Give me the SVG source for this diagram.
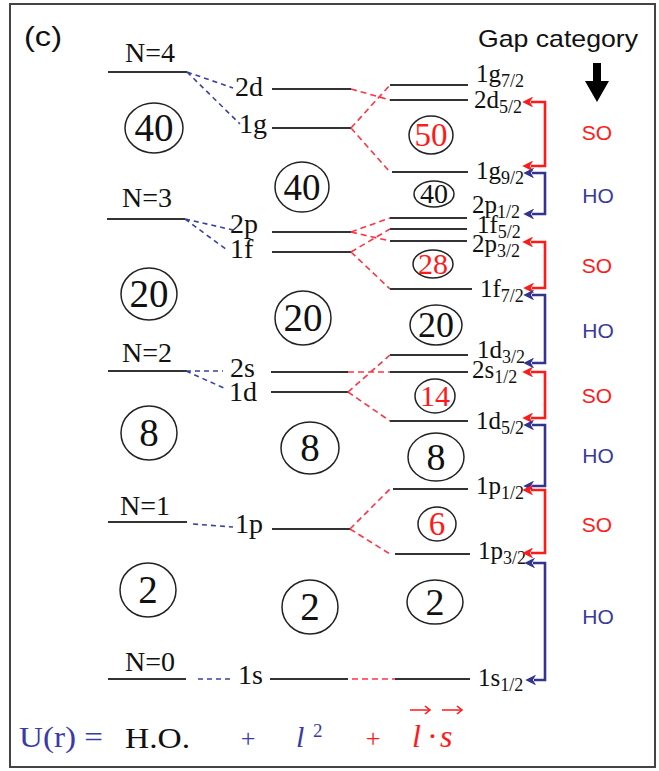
<svg xmlns="http://www.w3.org/2000/svg" width="659" height="771" viewBox="0 0 659 771">
<defs>
<style>
.lvl{stroke:#333;stroke-width:2;fill:none}
.bd{stroke:#3a42a0;stroke-width:1.6;stroke-dasharray:5 4;fill:none}
.rd{stroke:#ff3344;stroke-width:1.6;stroke-dasharray:6 4;fill:none}
.circ{stroke:#222;stroke-width:1.5;fill:none}
.serif{font-family:"Liberation Serif","Times New Roman",serif;fill:#111}
.sans{font-family:"Liberation Sans",Arial,sans-serif}
.num{font-family:"Liberation Serif","Times New Roman",serif;text-anchor:middle;fill:#111}
.red{fill:#ff1a1a}
.hl{font-size:28px}
.rl{font-size:25px}
.sub{font-size:18px}
.so{font-family:"Liberation Sans",Arial,sans-serif;font-size:21px;fill:#ff1a1a;text-anchor:middle}
.ho{font-family:"Liberation Sans",Arial,sans-serif;font-size:21px;fill:#3a3a9a;text-anchor:middle}
.rbr{stroke:#ff1a1a;stroke-width:2.6;fill:none;marker-start:url(#ar);marker-end:url(#ar)}
.bbr{stroke:#33348f;stroke-width:2.6;fill:none;marker-start:url(#ab);marker-end:url(#ab)}
</style>
<marker id="ar" viewBox="0 0 10 10" refX="2" refY="5" markerWidth="4.2" markerHeight="4.2" orient="auto-start-reverse" markerUnits="strokeWidth"><path d="M0,0 L10,5 L0,10 L3,5 z" fill="#ff1a1a"/></marker>
<marker id="ab" viewBox="0 0 10 10" refX="2" refY="5" markerWidth="4.2" markerHeight="4.2" orient="auto-start-reverse" markerUnits="strokeWidth"><path d="M0,0 L10,5 L0,10 L3,5 z" fill="#33348f"/></marker>
</defs>
<rect x="10" y="4" width="645" height="763" fill="#fff" stroke="#444" stroke-width="2"/>
<text x="24" y="46" class="sans" font-size="27" fill="#111" textLength="38" lengthAdjust="spacingAndGlyphs">(c)</text>
<g id="gap-category">
<text x="478" y="47" class="sans" font-size="24" fill="#111" textLength="160" lengthAdjust="spacingAndGlyphs">Gap category</text>
<path d="M593,63 H601 V81 H609 L597,102 L585,81 H593 Z" fill="#000"/>
</g>
<g id="ho-levels">
<g id="N4"><line class="lvl" x1="108" y1="72" x2="187" y2="72"/><text class="num hl" x="150" y="62">N=4</text></g>
<g id="N3"><line class="lvl" x1="107" y1="219" x2="185" y2="219"/><text class="num hl" x="147" y="207">N=3</text></g>
<g id="N2"><line class="lvl" x1="108" y1="371" x2="187" y2="371"/><text class="num hl" x="147" y="362">N=2</text></g>
<g id="N1"><line class="lvl" x1="108" y1="522" x2="187" y2="522"/><text class="num hl" x="145" y="515">N=1</text></g>
<g id="N0"><line class="lvl" x1="108" y1="679" x2="186" y2="679"/><text class="num hl" x="150" y="671">N=0</text></g>
</g>
<g id="l2-levels">
<g id="s2d"><line class="lvl" x1="272" y1="89" x2="351" y2="89"/><text class="serif hl" x="235" y="96">2d</text></g>
<g id="s1g"><line class="lvl" x1="272" y1="128" x2="351" y2="128"/><text class="serif hl" x="239" y="133">1g</text></g>
<g id="s2p"><line class="lvl" x1="272" y1="232" x2="351" y2="232"/><text class="serif hl" x="230" y="233">2p</text></g>
<g id="s1f"><line class="lvl" x1="272" y1="252" x2="351" y2="252"/><text class="serif hl" x="230" y="258">1f</text></g>
<g id="s2s"><line class="lvl" x1="271" y1="372" x2="348" y2="372"/><text class="serif hl" x="230" y="377">2s</text></g>
<g id="s1d"><line class="lvl" x1="271" y1="392" x2="348" y2="392"/><text class="serif hl" x="229" y="401">1d</text></g>
<g id="s1p"><line class="lvl" x1="272" y1="529" x2="350" y2="529"/><text class="serif hl" x="235" y="533">1p</text></g>
<g id="s1s"><line class="lvl" x1="270" y1="679" x2="348" y2="679"/><text class="serif hl" x="238" y="684">1s</text></g>
</g>
<g id="ls-levels">
<g id="r1g72"><line class="lvl" x1="390" y1="85" x2="468" y2="85"/><text class="serif rl" x="476" y="82">1g<tspan class="sub" dy="5">7/2</tspan></text></g>
<g id="r2d52"><line class="lvl" x1="390" y1="100" x2="468" y2="100"/><text class="serif rl" x="474" y="108">2d<tspan class="sub" dy="5">5/2</tspan></text></g>
<g id="r1g92"><line class="lvl" x1="392" y1="172" x2="468" y2="172"/><text class="serif rl" x="476" y="179">1g<tspan class="sub" dy="5">9/2</tspan></text></g>
<g id="r2p12"><line class="lvl" x1="390" y1="218" x2="467" y2="218"/><text class="serif rl" x="472" y="213">2p<tspan class="sub" dy="5">1/2</tspan></text></g>
<g id="r1f52"><line class="lvl" x1="390" y1="229" x2="467" y2="229"/><text class="serif rl" x="477" y="233">1f<tspan class="sub" dy="5">5/2</tspan></text></g>
<g id="r2p32"><line class="lvl" x1="390" y1="241" x2="467" y2="241"/><text class="serif rl" x="472" y="252">2p<tspan class="sub" dy="5">3/2</tspan></text></g>
<g id="r1f72"><line class="lvl" x1="390" y1="289" x2="472" y2="289"/><text class="serif rl" x="480" y="297">1f<tspan class="sub" dy="5">7/2</tspan></text></g>
<g id="r1d32"><line class="lvl" x1="390" y1="355" x2="468" y2="355"/><text class="serif rl" x="477" y="358">1d<tspan class="sub" dy="5">3/2</tspan></text></g>
<g id="r2s12"><line class="lvl" x1="390" y1="372" x2="468" y2="372"/><text class="serif rl" x="472" y="378">2s<tspan class="sub" dy="5">1/2</tspan></text></g>
<g id="r1d52"><line class="lvl" x1="390" y1="421" x2="468" y2="421"/><text class="serif rl" x="476" y="429">1d<tspan class="sub" dy="5">5/2</tspan></text></g>
<g id="r1p12"><line class="lvl" x1="393" y1="489" x2="468" y2="489"/><text class="serif rl" x="476" y="494">1p<tspan class="sub" dy="5">1/2</tspan></text></g>
<g id="r1p32"><line class="lvl" x1="395" y1="554" x2="470" y2="554"/><text class="serif rl" x="478" y="559">1p<tspan class="sub" dy="5">3/2</tspan></text></g>
<g id="r1s12"><line class="lvl" x1="395" y1="679" x2="470" y2="679"/><text class="serif rl" x="478" y="686">1s<tspan class="sub" dy="5">1/2</tspan></text></g>
</g>
<g id="magic-numbers">
<g id="c40a"><ellipse class="circ" cx="154" cy="128" rx="29" ry="25"/><text class="num" font-size="39" x="154" y="141">40</text></g>
<g id="c20a"><ellipse class="circ" cx="149" cy="294" rx="28" ry="26"/><text class="num" font-size="39" x="149" y="307">20</text></g>
<g id="c8a"><ellipse class="circ" cx="149" cy="433" rx="28" ry="27"/><text class="num" font-size="39" x="149" y="446">8</text></g>
<g id="c2a"><ellipse class="circ" cx="148" cy="590" rx="28" ry="27"/><text class="num" font-size="39" x="148" y="603">2</text></g>
<g id="c40b"><ellipse class="circ" cx="302" cy="187" rx="27" ry="25"/><text class="num" font-size="37" x="302" y="200">40</text></g>
<g id="c20b"><ellipse class="circ" cx="303" cy="318" rx="28" ry="27"/><text class="num" font-size="39" x="303" y="331">20</text></g>
<g id="c8b"><ellipse class="circ" cx="310" cy="448" rx="29" ry="26"/><text class="num" font-size="39" x="310" y="461">8</text></g>
<g id="c2b"><ellipse class="circ" cx="310" cy="607" rx="28" ry="27"/><text class="num" font-size="39" x="310" y="620">2</text></g>
<g id="c50"><ellipse class="circ" cx="431" cy="135" rx="22" ry="19"/><text class="num red" font-size="33" x="431" y="146">50</text></g>
<g id="c40c"><ellipse class="circ" cx="434" cy="194" rx="20" ry="13"/><text class="num" font-size="28" x="434" y="203">40</text></g>
<g id="c28"><ellipse class="circ" cx="433" cy="264" rx="20" ry="14"/><text class="num red" font-size="30" x="433" y="274">28</text></g>
<g id="c20c"><ellipse class="circ" cx="436" cy="325" rx="26" ry="20"/><text class="num" font-size="36" x="436" y="337">20</text></g>
<g id="c14"><ellipse class="circ" cx="435" cy="396" rx="20" ry="17"/><text class="num red" font-size="30" x="435" y="406">14</text></g>
<g id="c8c"><ellipse class="circ" cx="436" cy="457" rx="28" ry="24"/><text class="num" font-size="38" x="436" y="470">8</text></g>
<g id="c6"><ellipse class="circ" cx="437" cy="524" rx="19" ry="17"/><text class="num red" font-size="33" x="437" y="535">6</text></g>
<g id="c2c"><ellipse class="circ" cx="435" cy="602" rx="28" ry="22"/><text class="num" font-size="38" x="435" y="615">2</text></g>
</g>
<g id="connectors">
<path class="bd" d="M187,72 L233,88 M187,72 L240,124 M185,219 L233,230 M185,219 L227,250 M186,371 L223,371 M186,371 L226,389 M193,524 L233,527 M198,679 L233,679"/>
<path class="rd" d="M351,89 L390,100 M351,128 L390,85 M351,128 L390,172 M351,232 L390,218 M351,232 L390,241 M351,252 L390,229 M351,252 L390,289 M348,372 L390,372 M348,392 L390,355 M348,392 L390,421 M350,529 L390,489 M350,529 L390,554 M352,679 L395,679"/>
<path class="rbr" d="M531,102 H545 V166 H531"/>
<path class="bbr" d="M532,173 H545 V214 H532"/>
<path class="rbr" d="M531,242 H545 V288 H532"/>
<path class="bbr" d="M532,295 H545 V363 H532"/>
<path class="rbr" d="M531,372 H545 V418 H531"/>
<path class="bbr" d="M532,425 H545 V486 H532"/>
<path class="rbr" d="M531,490 H545 V553 H531"/>
<path class="bbr" d="M533,563 H545 V680 H534"/>
</g>
<g id="gap-labels">
<text class="so" x="597" y="140">SO</text>
<text class="ho" x="598" y="203">HO</text>
<text class="so" x="597" y="273">SO</text>
<text class="ho" x="598" y="338">HO</text>
<text class="so" x="597" y="403">SO</text>
<text class="ho" x="598" y="463">HO</text>
<text class="so" x="597" y="532">SO</text>
<text class="ho" x="598" y="624">HO</text>
</g>
<g id="formula">
<text x="19" y="747" class="serif" font-size="30" style="fill:#3a3aa8" textLength="84" lengthAdjust="spacingAndGlyphs">U(r) =</text>
<text x="125" y="748" class="serif" font-size="30" textLength="65" lengthAdjust="spacingAndGlyphs">H.O.</text>
<text x="248" y="747" class="serif" font-size="26" style="fill:#3a3aa8" text-anchor="middle">+</text>
<text x="296" y="747" class="serif" font-size="30" font-style="italic" style="fill:#3a3aa8">l</text>
<text x="313" y="737" class="serif" font-size="19" style="fill:#3a3aa8">2</text>
<text x="373" y="747" class="serif" font-size="26" style="fill:#ff1a1a" text-anchor="middle">+</text>
<text y="747" class="serif" font-size="32" font-style="italic" style="fill:#ff1a1a"><tspan x="412">l</tspan><tspan x="428">·</tspan><tspan x="440">s</tspan></text>
<path d="M410,710 H430 M442,710 H462" stroke="#ff1a1a" stroke-width="1.6" fill="none"/>
<path d="M425,706 L430,710 L425,714 M457,706 L462,710 L457,714" stroke="#ff1a1a" stroke-width="1.6" fill="none"/>
</g>
</svg>
